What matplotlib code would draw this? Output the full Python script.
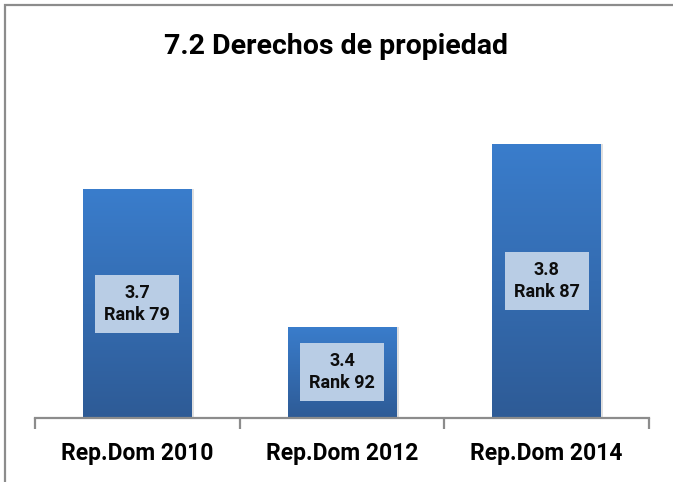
import numpy as np
import matplotlib
matplotlib.use("Agg")
import matplotlib.pyplot as plt
from matplotlib.patches import Rectangle
from matplotlib.colors import LinearSegmentedColormap

plt.rcParams['font.family'] = ['Roboto', 'DejaVu Sans']

categories = ["Rep.Dom 2010", "Rep.Dom 2012", "Rep.Dom 2014"]
scores = [3.7, 3.4, 3.8]
ranks = [79, 92, 87]
title = "7.2 Derechos de propiedad"

W, H = 673, 482
fig = plt.figure(figsize=(W / 100, H / 100), dpi=100)

# outer frame
fig.patches.append(Rectangle((5 / W, -0.05), 1.5, 1.05 - 5 / H, transform=fig.transFigure,
                             fill=False, edgecolor="#8c8c8c", linewidth=1.6))

ax = fig.add_axes([35 / W, (H - 418) / H, 614 / W, 320 / H])
ymin, ymax = 3.2, 3.9
ax.set_xlim(-0.5, len(categories) - 0.5)
ax.set_ylim(ymin, ymax)

cmap = LinearSegmentedColormap.from_list("barblue", ["#2e5b96", "#3a7dcc"])
grad = np.linspace(0, 1, 256).reshape(-1, 1)
bw = 0.53
for i, (v, r) in enumerate(zip(scores, ranks)):
    # soft shadow
    sh = Rectangle((i - bw / 2 + 0.012, ymin), bw, v - ymin, facecolor="#000000",
                   alpha=0.12, edgecolor="none", zorder=1)
    ax.add_patch(sh)
    rect = Rectangle((i - bw / 2, ymin), bw, v - ymin, facecolor="none",
                     edgecolor="none", zorder=2)
    ax.add_patch(rect)
    im = ax.imshow(grad, cmap=cmap, aspect="auto", origin="lower",
                   extent=(i - bw / 2, i + bw / 2, ymin, v), zorder=2)
    im.set_clip_path(rect)
    ax.text(i, (ymin + v) / 2, f"{v}\nRank {r}", ha="center", va="center",
            fontsize=13, fontweight="bold", color="#0d0d0d", linespacing=1.3,
            zorder=3,
            bbox=dict(boxstyle="square,pad=0.5", facecolor="#b9cde5",
                      edgecolor="none"))

ax.set_xlim(-0.5, len(categories) - 0.5)
ax.set_ylim(ymin, ymax)
for s in ["top", "right", "left"]:
    ax.spines[s].set_visible(False)
ax.spines["bottom"].set_color("#8c8c8c")
ax.spines["bottom"].set_linewidth(1.6)
ax.set_yticks([])
ax.set_xticks(np.arange(-0.5, len(categories), 1.0))
ax.set_xticklabels([])
ax.tick_params(axis="x", length=8, width=1.6, color="#8c8c8c")
ax.set_xticks(np.arange(len(categories)), minor=True)
ax.set_xticklabels(categories, minor=True, fontsize=16.5, fontweight="bold")
ax.tick_params(axis="x", which="minor", length=0, pad=17)

fig.text(0.5, (H - 47) / H, title, ha="center", va="center", fontsize=20.5,
         fontweight="bold")

fig.savefig("out.png", dpi=100)
